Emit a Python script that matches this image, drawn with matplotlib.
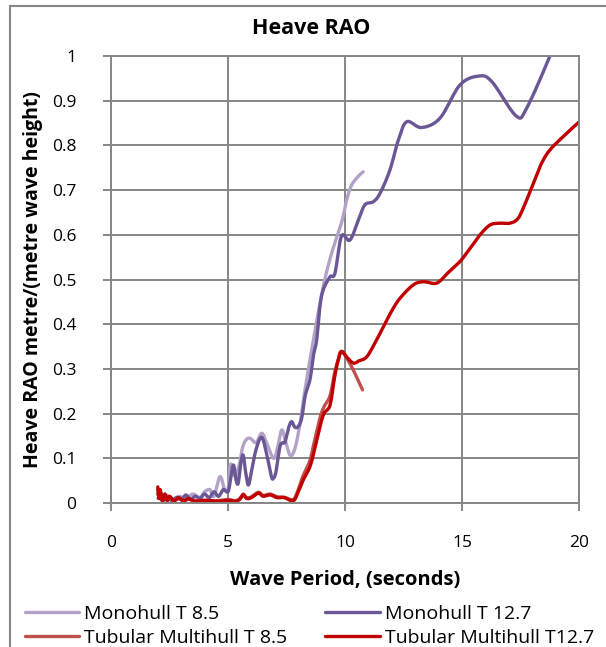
import numpy as np
import matplotlib.pyplot as plt
from matplotlib.patches import Rectangle

# Monohull T 8.5
mono85_x = [2.0, 2.3, 2.6, 2.9, 3.2, 3.5, 3.8, 4.0, 4.23, 4.4, 4.66, 4.85, 5.0, 5.08, 5.16,
            5.3, 5.51, 5.6, 5.75, 5.94, 6.2, 6.44, 6.65, 6.94, 7.1, 7.29, 7.45, 7.65, 7.85,
            8.08, 8.29, 8.65, 9.07, 9.43, 9.86, 10.07, 10.28, 10.55, 10.78]
mono85_y = [0.01, 0.02, 0.008, 0.015, 0.01, 0.02, 0.012, 0.025, 0.03, 0.015, 0.059, 0.03, 0.03,
            0.08, 0.085, 0.06, 0.092, 0.12, 0.14, 0.145, 0.135, 0.156, 0.135, 0.1, 0.12, 0.163,
            0.14, 0.107, 0.12, 0.178, 0.253, 0.365, 0.484, 0.559, 0.629, 0.678, 0.711, 0.73, 0.741]

# Monohull T 12.7
mono127_x = [2.0, 2.2, 2.4, 2.6, 2.8, 3.0, 3.2, 3.4, 3.6, 3.8, 4.0, 4.2, 4.4, 4.6, 4.8, 5.0,
             5.1, 5.23, 5.35, 5.44, 5.55, 5.65, 5.75, 5.87, 6.0, 6.2, 6.44, 6.65, 6.85, 6.94,
             7.05, 7.22, 7.35, 7.44, 7.6, 7.72, 7.85, 8.0, 8.15, 8.3, 8.5, 8.65, 8.79, 8.93,
             9.07, 9.36, 9.57, 9.85, 10.21, 10.57, 10.85, 11.21, 11.5, 11.92, 12.28, 12.64,
             13.27, 14.06, 14.91, 15.7, 16.27, 17.31, 17.76, 18.76, 19.2]
mono127_y = [0.02, 0.005, 0.015, 0.005, 0.012, 0.008, 0.018, 0.008, 0.015, 0.01, 0.02, 0.012,
             0.025, 0.015, 0.03, 0.025, 0.05, 0.085, 0.05, 0.045, 0.09, 0.107, 0.07, 0.04, 0.07,
             0.12, 0.147, 0.11, 0.06, 0.055, 0.07, 0.126, 0.135, 0.137, 0.17, 0.182, 0.17,
             0.171, 0.19, 0.24, 0.275, 0.33, 0.365, 0.44, 0.477, 0.506, 0.514, 0.597, 0.588,
             0.633, 0.667, 0.674, 0.693, 0.745, 0.812, 0.853, 0.84, 0.861, 0.935, 0.955,
             0.943, 0.866, 0.883, 1.0, 1.06]

# Tubular Multihull T 8.5
tub85_x = [2.0, 2.05, 2.1, 2.2, 2.3, 2.4, 2.5, 2.7, 2.9, 3.1, 3.3, 3.6, 4.0, 4.5, 5.0, 5.3,
           5.5, 5.65, 5.8, 6.0, 6.3, 6.5, 6.8, 7.1, 7.4, 7.79, 8.0, 8.2, 8.5, 8.7, 8.93, 9.1,
           9.36, 9.55, 9.71, 9.86, 10.28, 10.75]
tub85_y = [0.03, 0.012, 0.025, 0.008, 0.018, 0.006, 0.012, 0.006, 0.01, 0.005, 0.008, 0.005,
           0.006, 0.005, 0.008, 0.005, 0.01, 0.02, 0.012, 0.014, 0.024, 0.017, 0.02, 0.014,
           0.013, 0.008, 0.03, 0.06, 0.095, 0.14, 0.19, 0.215, 0.24, 0.29, 0.32, 0.339,
           0.305, 0.253]

# Tubular Multihull T12.7
tub127_x = [2.0, 2.05, 2.1, 2.2, 2.3, 2.4, 2.5, 2.7, 2.9, 3.1, 3.3, 3.6, 4.0, 4.5, 5.0, 5.3,
            5.5, 5.65, 5.8, 6.0, 6.3, 6.5, 6.8, 7.1, 7.4, 7.79, 8.0, 8.2, 8.5, 8.7, 8.93, 9.1,
            9.36, 9.55, 9.71, 9.86, 10.1, 10.36, 10.6, 10.93, 11.3, 11.64, 12.0, 12.35, 12.92,
            13.35, 13.92, 14.4, 14.91, 15.35, 15.77, 16.2, 16.6, 17.05, 17.4, 17.7, 18.05,
            18.4, 18.76, 19.33, 19.97]
tub127_y = [0.036, 0.01, 0.03, 0.005, 0.02, 0.005, 0.015, 0.005, 0.012, 0.004, 0.01, 0.004,
            0.006, 0.004, 0.006, 0.004, 0.008, 0.018, 0.01, 0.012, 0.022, 0.015, 0.018, 0.012,
            0.012, 0.005, 0.025, 0.05, 0.081, 0.12, 0.171, 0.2, 0.219, 0.28, 0.32, 0.339,
            0.325, 0.313, 0.318, 0.327, 0.36, 0.394, 0.43, 0.458, 0.488, 0.495, 0.492, 0.515,
            0.54, 0.57, 0.6, 0.622, 0.626, 0.626, 0.637, 0.67, 0.715, 0.76, 0.79, 0.82, 0.851]

yticklabels = ['0', '0.1', '0.2', '0.3', '0.4', '0.5', '0.6', '0.7', '0.8', '0.9', '1']


def smooth(x, y, n=12):
    # Excel style smoothed line: catmull-rom curve through the points
    x = np.asarray(x, float)
    y = np.asarray(y, float)
    px = np.concatenate([[x[0]], x, [x[-1]]])
    py = np.concatenate([[y[0]], y, [y[-1]]])
    t = np.linspace(0, 1, n, endpoint=False)
    xs, ys = [], []
    for i in range(1, len(px) - 2):
        for p, out in ((px, xs), (py, ys)):
            p0, p1, p2, p3 = p[i - 1], p[i], p[i + 1], p[i + 2]
            out.extend(0.5 * (2 * p1 + (-p0 + p2) * t + (2 * p0 - 5 * p1 + 4 * p2 - p3) * t ** 2
                              + (-p0 + 3 * p1 - 3 * p2 + p3) * t ** 3))
    xs.append(x[-1])
    ys.append(y[-1])
    return xs, ys


plt.rcParams['font.family'] = ['Open Sans', 'DejaVu Sans']

fig = plt.figure(figsize=(6.06, 6.47), dpi=100)
ax = fig.add_axes([111 / 606, 1 - 503 / 647, 468 / 606, 447 / 647])

# outer chart border, cut off at right and bottom like the reference
fig.patches.append(Rectangle((10 / 606, -0.05), 1.0, 1.05 - 6 / 647, transform=fig.transFigure,
                             fill=False, edgecolor='#868686', linewidth=1.5))

series = [
    (mono85_x, mono85_y, '#B3A2C7', 'Monohull T 8.5'),
    (mono127_x, mono127_y, '#6B5696', 'Monohull T 12.7'),
    (tub85_x, tub85_y, '#C0504D', 'Tubular Multihull T 8.5'),
    (tub127_x, tub127_y, '#C00000', 'Tubular Multihull T12.7'),
]
lines = {}
for x, y, c, lab in series:
    sx, sy = smooth(x, y)
    lines[lab], = ax.plot(sx, sy, color=c, lw=2.4, label=lab, solid_joinstyle='round',
                          solid_capstyle='round')

ax.set_xlim(0, 20)
ax.set_ylim(0, 1)
ax.set_xticks([0, 5, 10, 15, 20])
ax.set_yticks([i / 10 for i in range(11)])
ax.set_yticklabels(yticklabels)
ax.grid(True, color='#868686', linewidth=1.4)
ax.set_axisbelow(True)
for s in ax.spines.values():
    s.set_color('#868686')
    s.set_linewidth(1.4)
ax.tick_params(axis='both', colors='#868686', length=6, width=1.4, labelcolor='black', labelsize=12.5)
ax.tick_params(axis='x', pad=17)
ax.tick_params(axis='y', pad=19)

fig.text(311 / 606, 1 - 28 / 647, 'Heave RAO', fontsize=15.5, fontweight='bold', ha='center', va='center')
ax.set_xlabel('Wave Period, (seconds)', fontsize=14.5, fontweight='bold', va='center')
ax.xaxis.set_label_coords(0.5, (503 - 580) / 447)
ax.set_ylabel('Heave RAO metre/(metre wave height)', fontsize=14, fontweight='bold', va='center')
ax.yaxis.set_label_coords((33 - 111) / 468, 0.5)

order = ['Monohull T 8.5', 'Tubular Multihull T 8.5', 'Monohull T 12.7', 'Tubular Multihull T12.7']
fig.legend([lines[k] for k in order], order, loc='center left', bbox_to_anchor=(25 / 606, 1 - 626 / 647),
           ncol=2, frameon=False, fontsize=14, handlelength=2.8, handletextpad=0.25,
           columnspacing=1.95, labelspacing=0.33, borderaxespad=0, borderpad=0)

fig.savefig('out.png', dpi=100)
